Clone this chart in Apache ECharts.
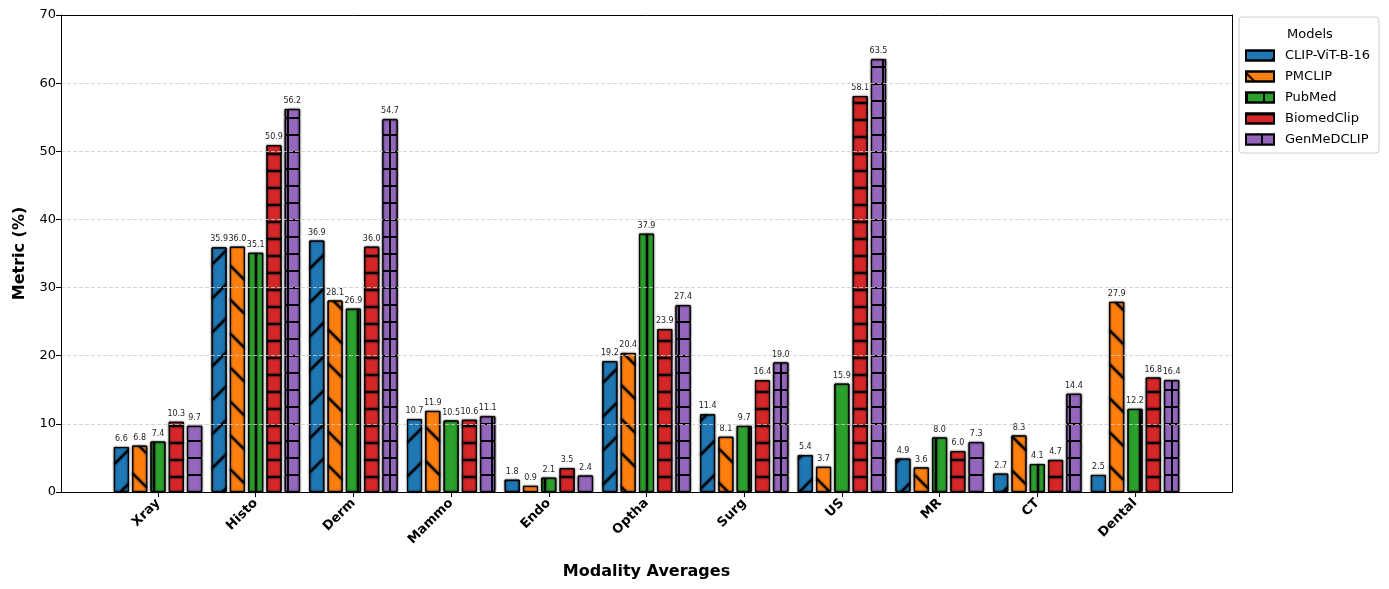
<!DOCTYPE html>
<html>
<head>
<meta charset="utf-8">
<script src="https://cdn.jsdelivr.net/npm/echarts@6/dist/echarts.min.js"></script>
<style>
html,body{margin:0;padding:0;background:#fff;}
#chart{width:1389px;height:589px;}
</style>
</head>
<body>
<div id="chart"></div>
<script>
const categories = ['Xray','Histo','Derm','Mammo','Endo','Optha','Surg','US','MR','CT','Dental'];
const modelNames = ['CLIP-ViT-B-16','PMCLIP','PubMed','BiomedClip','GenMeDCLIP'];
const clipVit = [6.6, 35.9, 36.9, 10.7, 1.8, 19.2, 11.4, 5.4, 4.9, 2.7, 2.5];
const pmclip = [6.8, 36.0, 28.1, 11.9, 0.9, 20.4, 8.1, 3.7, 3.6, 8.3, 27.9];
const pubmed = [7.4, 35.1, 26.9, 10.5, 2.1, 37.9, 9.7, 15.9, 8.0, 4.1, 12.2];
const biomedclip = [10.3, 50.9, 36.0, 10.6, 3.5, 23.9, 16.4, 58.1, 6.0, 4.7, 16.8];
const genmedclip = [9.7, 56.2, 54.7, 11.1, 2.4, 27.4, 19.0, 63.5, 7.3, 14.4, 16.4];
const yTicks = [0, 10, 20, 30, 40, 50, 60, 70];

const FONT = 'DejaVu Sans';
const colors = ['#1f77b4', '#ff7f0e', '#2ca02c', '#d62728', '#9467bd'];
const seriesData = [clipVit, pmclip, pubmed, biomedclip, genmedclip];

const decals = [
  {symbol: 'rect', color: '#000', dashArrayX: [1, 0], dashArrayY: [2, 22], rotation: -Math.PI / 4},
  {symbol: 'rect', color: '#000', dashArrayX: [1, 0], dashArrayY: [2, 22], rotation: Math.PI / 4},
  {symbol: 'rect', color: '#000', dashArrayX: [2, 15], dashArrayY: [1, 0]},
  {symbol: 'rect', color: '#000', dashArrayX: [1, 0], dashArrayY: [2, 15]},
  {symbol: 'rect', color: colors[4], dashArrayX: [15, 2], dashArrayY: [15, 2]}
];
const fills = [colors[0], colors[1], colors[2], colors[3], '#000'];

const gridLeft = 61, gridTop = 15, gridW = 1171, gridH = 477;
const band = 97.7;
const barGridLeft = 158 - band / 2;
const barGridW = band * categories.length;

const chart = echarts.init(document.getElementById('chart'), null, {renderer: 'canvas'});

const series = seriesData.map((d, i) => ({
  name: modelNames[i],
  type: 'bar',
  xAxisIndex: 1,
  yAxisIndex: 1,
  data: d,
  barWidth: 15,
  barGap: '22%',
  itemStyle: {
    color: fills[i],
    borderColor: '#000',
    borderWidth: 1,
    decal: decals[i],
    shadowColor: 'rgba(0,0,0,0.25)',
    shadowBlur: 2
  },
  label: {
    show: true,
    position: 'top',
    distance: 4,
    fontSize: 8,
    fontFamily: FONT,
    color: '#222',
    formatter: p => p.value.toFixed(1)
  },
  emphasis: {disabled: true}
}));

const frameLine = {show: true, onZero: false, lineStyle: {color: '#000', width: 1}};

chart.setOption({
  animation: false,
  aria: {enabled: false},
  textStyle: {fontFamily: FONT},
  grid: [
    {left: gridLeft, top: gridTop, width: gridW, height: gridH, show: false, containLabel: false},
    {left: barGridLeft, top: gridTop, width: barGridW, height: gridH, containLabel: false}
  ],
  xAxis: [
    {type: 'value', gridIndex: 0, min: 0, max: 1, position: 'bottom', axisLine: frameLine, axisTick: {show: false}, axisLabel: {show: false}, splitLine: {show: false}, z: 10},
    {
      type: 'category', gridIndex: 1, data: categories,
      axisLine: {show: false},
      axisTick: {show: true, alignWithLabel: true, length: 5, lineStyle: {color: '#000', width: 1}},
      axisLabel: {rotate: 45, fontSize: 13, fontWeight: 'bold', color: '#000', fontFamily: FONT, margin: 9, interval: 0},
      name: 'Modality Averages',
      nameLocation: 'middle',
      nameGap: 72,
      nameTextStyle: {fontSize: 16, fontWeight: 'bold', color: '#000', fontFamily: FONT}
    },
    {type: 'value', gridIndex: 0, min: 0, max: 1, position: 'top', axisLine: frameLine, axisTick: {show: false}, axisLabel: {show: false}, splitLine: {show: false}, z: 10}
  ],
  yAxis: [
    {
      type: 'value', gridIndex: 0, min: yTicks[0], max: yTicks[yTicks.length - 1], interval: 10,
      axisLine: frameLine,
      axisTick: {show: true, length: 5, lineStyle: {color: '#000'}},
      axisLabel: {fontSize: 13, color: '#000', fontFamily: FONT, margin: 5},
      splitLine: {show: true, lineStyle: {color: '#cccccc', type: [4, 2], width: 0.8}},
      name: 'Metric (%)',
      nameLocation: 'middle',
      nameGap: 33,
      nameTextStyle: {fontSize: 16, fontWeight: 'bold', color: '#000', fontFamily: FONT},
      z: 10
    },
    {type: 'value', gridIndex: 1, min: 0, max: 70, interval: 10, show: false, splitLine: {show: false}},
    {type: 'value', gridIndex: 0, min: 0, max: 70, interval: 10, position: 'right', axisLine: frameLine, axisTick: {show: false}, axisLabel: {show: false}, splitLine: {show: false}, z: 10}
  ],
  legend: {
    orient: 'vertical',
    left: 1239,
    top: 17,
    padding: [31, 9, 6, 6],
    itemWidth: 28,
    itemHeight: 10,
    itemGap: 6,
    icon: 'rect',
    backgroundColor: '#fff',
    borderColor: '#cccccc',
    borderWidth: 1,
    borderRadius: 3,
    textStyle: {fontSize: 13, color: '#000', fontFamily: FONT, lineHeight: 15, padding: [0, 0, 0, 6]},
    data: modelNames
  },
  graphic: [
    {type: 'text', left: 1287, top: 28, z: 100, style: {text: 'Models', fontSize: 13, fontFamily: FONT, fill: '#000'}}
  ],
  series: series
});
</script>
</body>
</html>
